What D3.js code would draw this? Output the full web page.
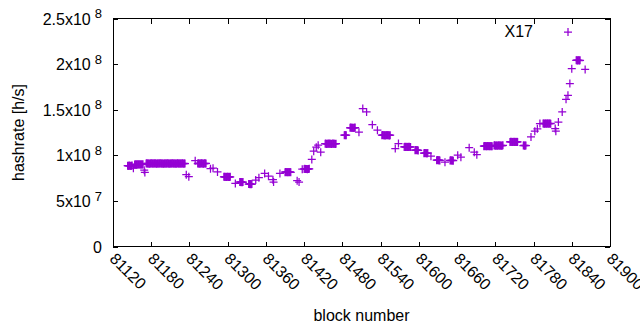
<!DOCTYPE html>
<html>
<head>
<meta charset="utf-8">
<script src="https://cdn.jsdelivr.net/npm/d3@7"></script>
<style>
body { margin: 0; background: #fff; }
svg { display: block; font-family: "Liberation Sans", Arial, sans-serif; }
</style>
</head>
<body>
<svg id="chart"></svg>
<script>
(function () {
// block numbers of each sample
var blocks = [
    81143, 81144, 81145, 81146, 81147, 81148, 81149, 81150, 81152,
    81154, 81155, 81156, 81157, 81158, 81159, 81160, 81161, 81162, 81163, 81164, 81165, 81166, 81167,
    81169, 81170,
    81172, 81173, 81174, 81175, 81176, 81177, 81178, 81179, 81180, 81181, 81182, 81183, 81184, 81185, 81186, 81187,
    81188, 81189, 81190, 81191, 81192, 81193, 81194, 81195, 81196, 81197, 81198, 81199, 81200, 81201, 81202, 81203,
    81204, 81205, 81206, 81207, 81208, 81209, 81210, 81211, 81212, 81213, 81214, 81215, 81216, 81217, 81218, 81219,
    81220, 81221, 81222, 81223, 81224, 81225, 81226, 81227, 81228, 81229, 81230, 81231, 81232, 81233,
    81235, 81239, 81249,
    81253, 81254, 81255, 81256, 81257, 81258, 81259, 81260, 81261, 81262, 81263, 81264, 81265, 81266,
    81273, 81277, 81284,
    81294, 81295, 81296, 81297, 81298, 81299, 81300, 81301, 81302, 81303, 81304,
    81312,
    81319, 81320, 81321, 81322, 81323, 81324,
    81333, 81334, 81335, 81336, 81337, 81338,
    81344, 81349, 81358, 81364, 81371, 81372, 81382,
    81390, 81391, 81392, 81393, 81394, 81395, 81396, 81397, 81398, 81399,
    81409, 81412,
    81417, 81420, 81421, 81422, 81423, 81424, 81425, 81426, 81427, 81428,
    81432, 81435, 81439, 81442, 81446,
    81453, 81454, 81455, 81456, 81457, 81458, 81459, 81460, 81461, 81462, 81463, 81464, 81465, 81466, 81467, 81468, 81469, 81470,
    81483, 81484, 81485, 81486,
    81492, 81493, 81494, 81495, 81496, 81497, 81498, 81499, 81500,
    81506, 81512, 81518, 81527, 81535,
    81542, 81543, 81544, 81545, 81546, 81547, 81548, 81549, 81550, 81551, 81552, 81553, 81554, 81555,
    81563, 81568,
    81577, 81578, 81579, 81580, 81581, 81582, 81583, 81584, 81585, 81586, 81587,
    81594, 81595, 81596, 81597, 81598, 81599,
    81608, 81609, 81610, 81611, 81612, 81613, 81614, 81619,
    81628, 81629, 81630, 81631, 81632, 81633,
    81641,
    81649, 81650, 81651, 81652, 81653, 81654,
    81661, 81666, 81679, 81687, 81691,
    81702, 81703, 81704, 81705, 81706, 81707, 81708, 81709, 81710, 81711, 81712, 81713, 81714, 81715,
    81718, 81719, 81720, 81721, 81722, 81723, 81724, 81725, 81726, 81727, 81728, 81729, 81730, 81731, 81732,
    81743, 81744, 81745, 81746, 81747, 81748, 81749, 81750, 81751, 81752, 81753, 81754, 81755,
    81764, 81765, 81766, 81767, 81768,
    81776, 81782, 81786,
    81790, 81795, 81796, 81797, 81798, 81799, 81800, 81801, 81802, 81803, 81804, 81805, 81806, 81807,
    81814, 81815, 81819, 81825, 81831, 81834, 81837, 81840,
    81847, 81848, 81849, 81850, 81851, 81852, 81853,
    81861
]

// hashrate in units of 10^6 h/s, same order as blocks
var hashrateM = [
    88.6, 88.4, 88.7, 88.5, 88.6, 88.3, 88.5, 88.7, 85.9,
    90.0, 89.8, 90.1, 89.9, 90.0, 90.2, 89.9, 90.1, 89.8, 90.0, 90.1, 89.9, 90.0, 90.2,
    83.7, 81.2,
    91.0, 91.2, 90.9, 91.1, 91.0, 90.8, 91.1, 91.0, 91.2, 90.9, 91.0, 91.1, 90.9, 91.0, 91.2, 91.0,
    90.8, 91.1, 91.0, 90.9, 91.1, 91.0, 91.2, 91.0, 90.9, 91.1, 91.0, 90.8, 91.0, 91.1, 90.9, 91.0,
    91.1, 90.9, 91.2, 91.0, 90.8, 91.0, 91.1, 91.0, 90.9, 91.2, 91.0, 91.1, 90.9, 91.0, 91.1, 90.8,
    91.0, 91.2, 90.9, 91.0, 91.1, 91.0, 90.9, 91.1, 91.0, 91.2, 90.8, 91.0, 91.1, 90.9,
    78.8, 76.6, 94.1,
    91.0, 91.3, 90.8, 91.1, 91.0, 90.9, 91.2, 91.0, 91.1, 90.8, 91.0, 91.2, 90.9, 91.1,
    85.3, 85.9, 81.8,
    76.4, 76.6, 76.2, 76.5, 76.3, 76.4, 76.6, 76.3, 76.5, 76.2, 76.4,
    69.1,
    70.6, 70.8, 70.5, 70.7, 70.4, 70.6,
    68.4, 68.6, 68.3, 68.5, 68.2, 68.4,
    72.8, 75.5, 80.1, 77.1, 73.3, 70.6, 80.1,
    81.5, 81.7, 81.4, 81.6, 81.5, 81.3, 81.6, 81.5, 81.7, 81.4,
    72.2, 70.6,
    84.8, 85.0, 85.2, 84.9, 85.1, 85.0, 84.8, 85.1, 85.0, 85.2,
    95.5, 104.5, 108.9, 111.1, 103.4,
    112.7, 112.9, 112.5, 112.8, 112.6, 112.7, 112.9, 112.6, 112.7, 112.8, 112.5, 112.7, 112.9, 112.6, 112.8, 112.7, 112.5, 112.8,
    122.0, 122.2, 121.9, 122.1,
    130.2, 130.4, 130.1, 130.3, 130.2, 130.0, 130.3, 130.2, 130.4,
    125.3, 151.2, 147.5, 133.5, 127.5,
    122.0, 122.2, 121.9, 122.1, 122.0, 121.8, 122.1, 122.0, 122.2, 121.9, 122.0, 122.1, 121.8, 122.0,
    107.4, 112.9,
    109.2, 109.4, 109.1, 109.3, 109.2, 109.0, 109.3, 109.2, 109.4, 109.1, 109.2,
    105.6, 105.8, 105.5, 105.7, 105.6, 105.4,
    102.3, 102.5, 102.2, 102.4, 102.3, 102.1, 102.4, 99.0,
    94.6, 94.8, 94.5, 94.7, 94.6, 94.4,
    92.5,
    94.3, 94.5, 94.2, 94.4, 94.3, 94.1,
    100.1, 97.9, 108.3, 103.4, 100.7,
    110.0, 110.2, 109.9, 110.1, 110.0, 109.8, 110.1, 110.0, 110.2, 109.9, 110.0, 110.1, 109.8, 110.0,
    110.7, 110.9, 110.6, 110.8, 110.7, 110.5, 110.8, 110.7, 110.9, 110.6, 110.7, 110.8, 110.5, 110.7, 110.9,
    114.7, 114.9, 114.6, 114.8, 114.7, 114.5, 114.8, 114.7, 114.9, 114.6, 114.7, 114.8, 114.6,
    110.7, 110.9, 110.6, 110.8, 110.7,
    120.1, 126.4, 129.1,
    134.8, 134.8, 135.0, 134.7, 134.9, 134.8, 134.6, 134.9, 134.8, 135.0, 134.7, 134.8, 134.9, 134.6,
    129.3, 126.4, 136.5, 147.5, 161.4, 165.8, 178.6, 195.0,
    204.1, 204.3, 204.0, 204.2, 204.1, 203.9, 204.2,
    194.2
]

var xTicks = [81120, 81180, 81240, 81300, 81360, 81420, 81480, 81540, 81600, 81660, 81720, 81780, 81840, 81900]
var yTicks = [0, 5e7, 1e8, 1.5e8, 2e8, 2.5e8]
var yTickBase = ['0', '5x10', '1x10', '1.5x10', '2x10', '2.5x10']
var yTickExp = ['', '7', '8', '8', '8', '8']
var seriesName = 'X17'

var width = 640, height = 330
var left = 113, right = 610, top = 18.5, bottom = 246.5
var purple = '#9400d3'
var tick = 5

var data = blocks.map((b, i) => ({block: b, rate: hashrateM[i] * 1e6}))

var svg = d3.select('#chart').attr('width', width).attr('height', height)

var x = d3.scaleLinear().domain([81120, 81900]).range([left, right])
var y = d3.scaleLinear().domain([0, 2.5e8]).range([bottom, top])

var plus = 'M-4,0H4M0,-4V4'

// axes (ticks point inward, mirrored on top/right)
var gx = svg.append('g')
    .attr('transform', `translate(0,${bottom})`)
    .call(d3.axisBottom(x).tickValues(xTicks).tickSize(-tick).tickFormat(d => d))
gx.selectAll('text')
    .attr('x', 6).attr('y', 7).attr('dy', '0.35em')
    .attr('text-anchor', 'start')
    .attr('transform', 'rotate(45)')

svg.append('g')
    .attr('transform', `translate(0,${top})`)
    .call(d3.axisTop(x).tickValues(xTicks).tickSize(-tick).tickFormat(''))

var gy = svg.append('g')
    .attr('transform', `translate(${left},0)`)
    .call(d3.axisLeft(y).tickValues(yTicks).tickSize(-tick).tickPadding(11).tickFormat(''))
gy.selectAll('text').each(function (d, i) {
    var t = d3.select(this).attr('dy', '0.35em')
    t.append('tspan').text(yTickBase[i])
    if (yTickExp[i]) {
        t.append('tspan').attr('dx', 4).attr('dy', '-0.5em').attr('font-size', 13).text(yTickExp[i])
    }
})

svg.append('g')
    .attr('transform', `translate(${right},0)`)
    .call(d3.axisRight(y).tickValues(yTicks).tickSize(-tick).tickFormat(''))

svg.selectAll('.domain').remove()
svg.selectAll('.tick line').attr('stroke', '#000').attr('shape-rendering', 'crispEdges')
svg.selectAll('.tick text').attr('font-size', 16).attr('fill', '#000')
    .attr('font-family', '"Liberation Sans", Arial, sans-serif')

svg.append('rect')
    .attr('x', left).attr('y', top)
    .attr('width', right - left).attr('height', bottom - top)
    .attr('fill', 'none').attr('stroke', '#000')
    .attr('shape-rendering', 'crispEdges')

// points
svg.append('g')
    .selectAll('path')
    .data(data)
    .enter()
    .append('path')
    .attr('transform', d => `translate(${x(d.block)},${y(d.rate)})`)
    .attr('d', plus)
    .attr('stroke', purple)
    .attr('stroke-width', 1.25)
    .attr('fill', 'none')

// key
svg.append('text')
    .attr('x', 533).attr('y', 31).attr('dy', '0.35em')
    .attr('text-anchor', 'end').attr('font-size', 16)
    .text(seriesName)
svg.append('path')
    .attr('transform', 'translate(568,32)')
    .attr('d', plus)
    .attr('stroke', purple)
    .attr('stroke-width', 1.25)

// axis titles
svg.append('text')
    .attr('x', (left + right) / 2).attr('y', 315).attr('dy', '0.35em')
    .attr('text-anchor', 'middle').attr('font-size', 16)
    .text('block number')
svg.append('text')
    .attr('transform', `translate(18,${(top + bottom) / 2}) rotate(-90)`)
    .attr('dy', '0.35em')
    .attr('text-anchor', 'middle').attr('font-size', 16)
    .text('hashrate [h/s]')
})();
</script>
</body>
</html>
